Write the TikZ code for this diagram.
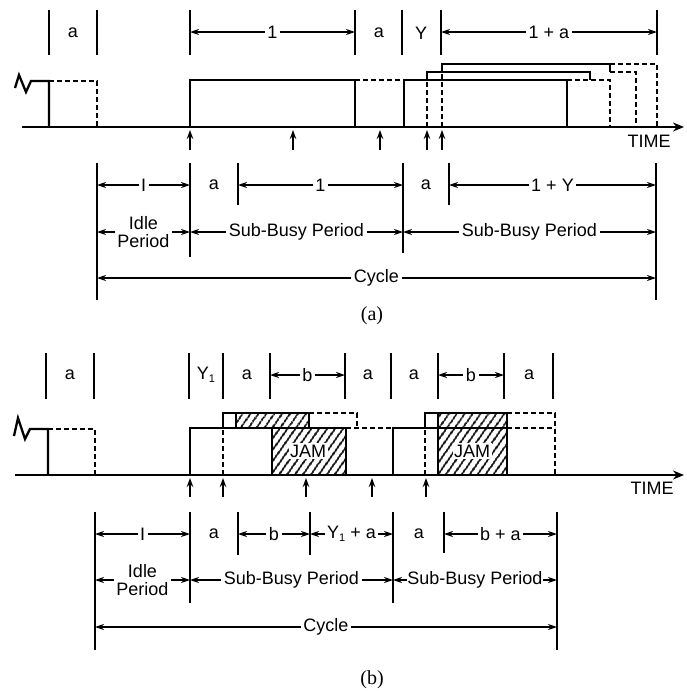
\documentclass[tikz,border=0pt]{standalone}
\usepackage{fontspec}
\setmainfont{Liberation Serif}
\newfontfamily\helv{Liberation Sans}
\usetikzlibrary{arrows.meta, patterns.meta}
\newcommand{\Yone}{Y\raisebox{-0.35ex}{\fontsize{11}{11}\selectfont 1}}

\begin{document}
\begin{tikzpicture}[
    x=1pt, y=-1pt,
    every node/.style={font=\helv\fontsize{18}{18.5}\selectfont, align=center, inner sep=2pt},
    caption/.style={font=\rmfamily\fontsize{20}{21}\selectfont},
    tickline/.style={line width=1.4pt},
    pulse/.style={line width=2.3pt},
    ghostline/.style={line width=1.6pt, dash pattern=on 5pt off 3pt},
    dimline/.style={{Stealth[length=9pt, width=6pt]}-{Stealth[length=9pt, width=6pt]}, line width=1.3pt},
    spanlabel/.style={fill=white, inner sep=2.5pt},
    timeaxis/.style={line width=2.4pt, -{Stealth[length=11pt, width=9pt]}},
    arrival/.style={-{Stealth[length=9pt, width=6.5pt]}, line width=1.4pt},
    jamfill/.style={pattern={Lines[angle=55, distance=6.5pt, line width=2pt]}},
    jamlabel/.style={fill=white, inner sep=1.5pt}
  ]
    \useasboundingbox (0,0) rectangle (686,691);

    % panel (a): top interval marks
    \foreach \x in {49,97,190,355,402,441,657} {
      \draw[tickline] (\x,10) -- (\x,55);
    }
    \node (aTopA) at (73,33) {a};
    \draw[dimline] (190,32) -- node[spanlabel] (aTopOne) {1} (355,32);
    \node (aTopB) at (379,33) {a};
    \node (aTopY) at (421,33) {Y};
    \draw[dimline] (441,32) -- node[spanlabel] (aTopOneA) {1 + a} (657,32);

    % panel (a): channel
    \draw[timeaxis] (22,127) -- (684,127);
    \node (aTime) at (649,141) {TIME};
    \draw[pulse] (15,88) -- (19,75) -- (26,92) -- (31,81) -- (49,81) -- (49,127);
    \draw[ghostline] (49,81) -- (97,81) -- (97,127);
    \draw[pulse] (190,127) -- (190,80) -- (355,80) -- (355,127);
    \draw[ghostline] (355,80) -- (404,80);
    \draw[pulse] (404,127) -- (404,80) -- (567,80) -- (567,127);
    \draw[ghostline] (567,80) -- (610,80) -- (610,127);
    \draw[ghostline] (427,127) -- (427,80);
    \draw[pulse] (427,80) -- (427,72) -- (590,72) -- (590,80);
    \draw[ghostline] (610,72) -- (636,72) -- (636,127);
    \draw[ghostline] (442,127) -- (442,72);
    \draw[pulse] (442,72) -- (442,64) -- (610,64) -- (610,72);
    \draw[ghostline] (610,64) -- (657,64) -- (657,127);
    \foreach \x in {190,293,380,427,442} {
      \draw[arrival] (\x,150) -- (\x,130);
    }

    % panel (a): periods
    \draw[tickline] (97,163) -- (97,300);
    \draw[tickline] (190,163) -- (190,257);
    \draw[tickline] (238,163) -- (238,205);
    \draw[tickline] (403,163) -- (403,253);
    \draw[tickline] (449,163) -- (449,205);
    \draw[tickline] (656,163) -- (656,300);
    \draw[dimline] (97,185) -- node[spanlabel] (aIdleLen) {I} (190,185);
    \node (aBotA) at (214,185) {a};
    \draw[dimline] (238,185) -- node[spanlabel] (aBotOne) {1} (403,185);
    \node (aBotB) at (426,185) {a};
    \draw[dimline] (449,185) -- node[spanlabel] (aBotOneY) {1 + Y} (656,185);
    \draw[dimline] (97,232) -- node[spanlabel] (aIdle) {Idle\\Period} (190,232);
    \draw[dimline] (190,232) -- node[spanlabel] (aSubA) {Sub-Busy Period} (403,232);
    \draw[dimline] (403,232) -- node[spanlabel] (aSubB) {Sub-Busy Period} (656,232);
    \draw[dimline] (97,278) -- node[spanlabel] (aCycle) {Cycle} (656,278);
    \node[caption] (aCap) at (372,316) {(a)};

    % panel (b): top interval marks
    \foreach \x in {46,94,189,223,270,345,391,438,504,553} {
      \draw[tickline] (\x,353) -- (\x,399);
    }
    \node (bTopA) at (70,375) {a};
    \node (bTopY) at (206,375) {\Yone};
    \node (bTopB) at (247,375) {a};
    \draw[dimline] (270,375) -- node[spanlabel] (bTopJam) {b} (345,375);
    \node (bTopC) at (368,375) {a};
    \node (bTopD) at (414,375) {a};
    \draw[dimline] (438,375) -- node[spanlabel] (bTopJamB) {b} (504,375);
    \node (bTopE) at (529,375) {a};

    % panel (b): channel
    \draw[timeaxis] (15,475) -- (684,475);
    \node (bTime) at (652,488) {TIME};
    \draw[pulse] (14,436) -- (18,418) -- (25,439) -- (30,429) -- (48,429) -- (48,475);
    \draw[ghostline] (48,429) -- (95,429) -- (95,475);

    % first collision
    \draw[pulse, jamfill] (272,428) rectangle (346,475);
    \node[jamlabel] (bJamA) at (308,451) {JAM};
    \draw[pulse] (190,475) -- (190,428) -- (272,428);
    \draw[ghostline] (223,475) -- (223,428);
    \draw[pulse, jamfill] (236,413) rectangle (309,428);
    \draw[pulse] (223,428) rectangle (236,413);
    \draw[ghostline] (309,413) -- (357,413) -- (357,428);
    \draw[ghostline] (346,428) -- (393,428);

    % second collision
    \draw[pulse] (393,475) -- (393,428) -- (438,428);
    \draw[ghostline] (425,475) -- (425,428);
    \draw[pulse] (425,428) rectangle (438,413);
    \draw[pulse, jamfill] (438,413) rectangle (507,428);
    \draw[pulse, jamfill] (438,428) rectangle (507,475);
    \node[jamlabel] (bJamB) at (472,451) {JAM};
    \draw[ghostline] (507,413) -- (555,413) -- (555,475);
    \draw[ghostline] (507,428) -- (555,428);
    \foreach \x in {190,223,306,372,426} {
      \draw[arrival] (\x,497) -- (\x,478);
    }

    % panel (b): periods
    \draw[tickline] (95,512) -- (95,650);
    \draw[tickline] (190,512) -- (190,603);
    \draw[tickline] (238,512) -- (238,555);
    \draw[tickline] (310,512) -- (310,555);
    \draw[tickline] (393,512) -- (393,603);
    \draw[tickline] (444,512) -- (444,553);
    \draw[tickline] (557,512) -- (557,650);
    \draw[dimline] (95,534) -- node[spanlabel] (bIdleLen) {I} (190,534);
    \node (bBotA) at (214,534) {a};
    \draw[dimline] (238,534) -- node[spanlabel] (bBotJam) {b} (310,534);
    \draw[dimline] (310,534) -- node[spanlabel] (bBotYa) {\Yone\ + a} (393,534);
    \node (bBotB) at (419,534) {a};
    \draw[dimline] (444,534) -- node[spanlabel] (bBotJamA) {b + a} (557,534);
    \draw[dimline] (95,580) -- node[spanlabel] (bIdle) {Idle\\Period} (190,580);
    \draw[dimline] (190,580) -- node[spanlabel] (bSubA) {Sub-Busy Period} (393,580);
    \draw[dimline] (393,580) -- node[spanlabel, inner sep=0.5pt] (bSubB) {Sub-Busy Period} (557,580);
    \draw[dimline] (95,627) -- node[spanlabel] (bCycle) {Cycle} (557,627);
    \node[caption] (bCap) at (372,680) {(b)};
  \end{tikzpicture}
\end{document}
